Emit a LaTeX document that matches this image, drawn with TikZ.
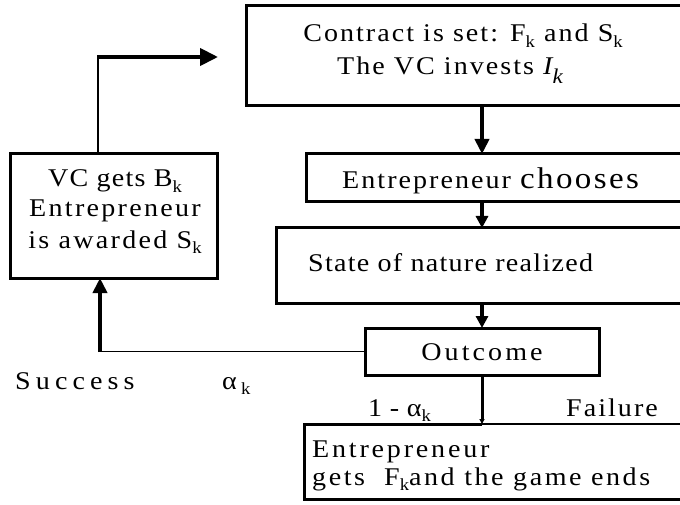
\documentclass[tikz,border=0pt]{standalone}
\usepackage{fontspec}
\setmainfont{Liberation Serif}[FakeStretch=1.1, LetterSpace=8]
\usetikzlibrary{arrows.meta}
\newcommand{\sbk}{\raisebox{-0.22em}{\fontsize{17}{17}\selectfont k}}
\newcommand{\isbk}{\raisebox{-0.35em}{\itshape\fontsize{21}{21}\selectfont k}}
\newcommand{\lsp}[1]{\addfontfeatures{LetterSpace=#1}}
\begin{document}
\begin{tikzpicture}[x=1pt,y=-1pt,
  box/.style={draw, line width=3pt, inner sep=0pt, outer sep=0pt, anchor=north west},
  nobox/.style={inner sep=0pt, outer sep=0pt, anchor=north west},
  txt/.style={inner sep=0pt, font=\fontsize{25.5}{25.5}\selectfont},
  bigarrow/.style={line width=4pt, -{Triangle[length=15pt,width=14pt]}},
  midarrow/.style={line width=3.5pt, -{Triangle[length=12pt,width=12pt]}},
  thinline/.style={line width=1.2pt}]
\useasboundingbox (0,0) rectangle (680,505);
\clip (0,0) rectangle (680,505);
% boxes
\node[box, minimum width=460pt, minimum height=100pt] (contract) at (246,6) {};
\node[box, minimum width=400pt, minimum height=48pt] (chooses) at (306,154) {};
\node[box, minimum width=430pt, minimum height=75pt] (state) at (276,228) {};
\node[box, minimum width=234pt, minimum height=47pt] (outcome) at (365,328) {};
\node[nobox, minimum width=400pt, minimum height=75pt] (final) at (304,424) {};
\node[box, minimum width=207pt, minimum height=124pt] (vc) at (10,154) {};
% texts
\node[txt, anchor=base] (t1) at (463,42) {Contract is set: F\sbk{} and S\sbk};
\node[txt, anchor=base] (t2) at (450,75) {The VC invests {\itshape I}\isbk};
\node[txt, anchor=base west] (t3) at (342,189) {Entrepreneur {\fontsize{30}{30}\selectfont chooses}};
\node[txt, anchor=base west] (t4) at (308,271) {\lsp{5}State of nature realized};
\node[txt, anchor=base] (t5) at (482,360) {\lsp{12}Outcome};
\node[txt, anchor=base] (t6) at (115,187) {\lsp{5}VC gets B\sbk};
\node[txt, anchor=base] (t7) at (115,217) {\lsp{9}Entrepreneur};
\node[txt, anchor=base] (t8) at (115,248) {\lsp{9}is awarded S\sbk};
\node[txt, anchor=base west] (t9) at (15,389) {\lsp{20}Success};
\node[txt, anchor=base west] (t10) at (222,389) {\lsp{5}α\,\sbk};
\node[txt, anchor=base west] (t11) at (368,416) {\lsp{30}1-α\sbk};
\node[txt, anchor=base west] (t12) at (566,416) {Failure};
\node[txt, anchor=base west] (t13) at (312,457) {\lsp{11}Entrepreneur};
\node[txt, anchor=base west] (t14) at (312,485) {\lsp{10}gets\ \ F\sbk and the game ends};
% connectors
\draw[bigarrow] (contract.south -| outcome.north) -- (chooses.north -| outcome.north);
\draw[midarrow] (chooses.south -| outcome.north) -- (state.north -| outcome.north);
\draw[midarrow] (state.south -| outcome.north) -- (outcome.north);
\coordinate (fbk) at (98,57);
\coordinate (fbtip) at (218,57);
\draw[thinline] (vc.north -| fbk) -- (fbk);
\draw[line width=4pt, -{Triangle[length=18pt,width=17pt]}] ([xshift=-0.6pt]fbk) -- (fbtip);
\coordinate (succ) at (100,351.5);
\draw[thinline] (outcome.west) -- (succ);
\draw[bigarrow] ([yshift=-0.6pt]succ) -- (succ |- vc.south);
\draw[line width=3pt, -{Triangle[length=5pt,width=5pt]}] (outcome.south) -- (outcome.south |- final.north);
\coordinate (failend) at (690,424);
\draw[thinline] (outcome.south |- final.north) -- (failend);
\draw[line width=3pt] (outcome.south |- final.north) -- (final.north west) -- (final.south west) -- (final.south east);
\end{tikzpicture}
\end{document}
